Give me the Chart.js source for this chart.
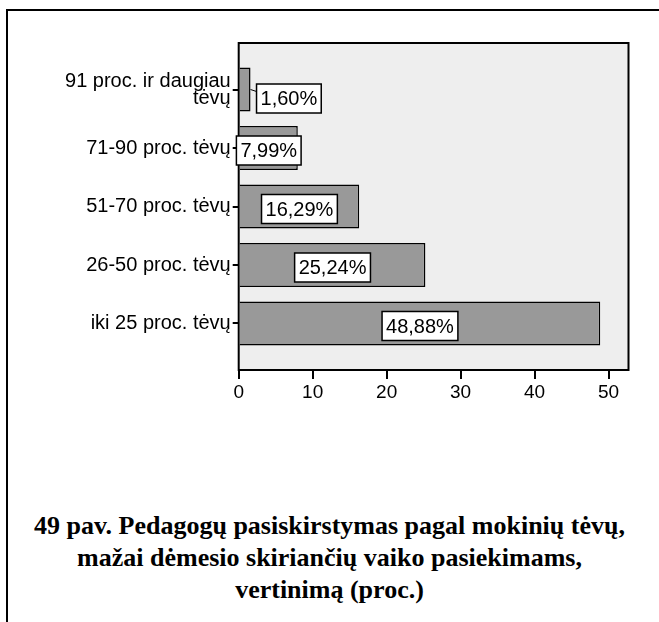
<!DOCTYPE html>
<html>
<head>
<meta charset="utf-8">
<script src="https://cdn.jsdelivr.net/npm/chart.js@4.4.1/dist/chart.umd.min.js"></script>
<style>
  body { margin: 0; background: #fff; }
  #frame {
    position: absolute; left: 6px; top: 9px; width: 700px; height: 700px;
    border-top: 2px solid #000; border-left: 2px solid #000;
  }
  #wrap { position: absolute; left: 0; top: 0; width: 659px; height: 420px; }
  #caption {
    position: absolute; left: 0; top: 510px; width: 659px; text-align: center;
    font: bold 26px 'Liberation Serif', 'Times New Roman', serif;
    line-height: 32px; color: #000;
  }
</style>
</head>
<body>
<div id="frame"></div>
<div id="wrap"><canvas id="chart"></canvas></div>
<div id="caption">49 pav. Pedagogų pasiskirstymas pagal mokinių tėvų,<br>mažai dėmesio skiriančių vaiko pasiekimams,<br>vertinimą (proc.)</div>
<script>
// categories top to bottom
const categories = [
    ['91 proc. ir daugiau', 'tėvų'],
    '71-90 proc. tėvų',
    '51-70 proc. tėvų',
    '26-50 proc. tėvų',
    'iki 25 proc. tėvų'
];
const percents = [1.60, 7.99, 16.29, 25.24, 48.88];
const xTicks = [0, 10, 20, 30, 40, 50];

const FONT = "'Liberation Sans', Arial, sans-serif";

const plotFrame = {
    id: 'plotFrame',
    beforeDatasetsDraw(chart) {
        const { ctx, chartArea: a } = chart;
        ctx.save();
        ctx.fillStyle = '#eeeeee';
        ctx.fillRect(a.left, a.top, a.right - a.left, a.bottom - a.top);
        ctx.strokeStyle = '#000';
        ctx.lineWidth = 2;
        ctx.strokeRect(a.left, a.top, a.right - a.left, a.bottom - a.top);
        ctx.restore();
    }
};

// white boxes with the percentage, centred on the bar or beside it when the bar is too short
const valueBoxes = {
    id: 'valueBoxes',
    afterDatasetsDraw(chart) {
        const { ctx } = chart;
        const meta = chart.getDatasetMeta(0);
        ctx.save();
        ctx.font = `20px ${FONT}`;
        ctx.textAlign = 'center';
        ctx.textBaseline = 'middle';
        meta.data.forEach((bar, i) => {
            const text = percents[i].toFixed(2).replace('.', ',') + '%';
            const w = ctx.measureText(text).width + 8;
            const h = 29;
            const len = bar.x - bar.base;
            let cx = (bar.x + bar.base) / 2;
            let cy = bar.y + 2.5;
            if (len < w / 2) {
                const left = bar.x + 6;
                cx = left + w / 2;
                cy = bar.y + 9;
                ctx.strokeStyle = '#000';
                ctx.lineWidth = 1;
                ctx.beginPath();
                ctx.moveTo(bar.x, bar.y);
                ctx.lineTo(left, bar.y + 2);
                ctx.stroke();
            }
            ctx.fillStyle = '#fff';
            ctx.fillRect(cx - w / 2, cy - h / 2, w, h);
            ctx.strokeStyle = '#000';
            ctx.lineWidth = 1.5;
            ctx.strokeRect(cx - w / 2, cy - h / 2, w, h);
            ctx.fillStyle = '#000';
            ctx.fillText(text, cx, cy + 1);
        });
        ctx.restore();
    }
};

new Chart(document.getElementById('chart'), {
    type: 'bar',
    data: {
        datasets: [{
            data: percents.map((v, i) => ({ x: v, y: i })),
            backgroundColor: '#999999',
            borderColor: '#000',
            borderWidth: 1.5,
            barPercentage: 0.755,
            categoryPercentage: 1
        }]
    },
    options: {
        indexAxis: 'y',
        responsive: true,
        maintainAspectRatio: false,
        animation: false,
        layout: { padding: { top: 43, right: 30.5, left: 0, bottom: 0 } },
        plugins: {
            legend: { display: false },
            tooltip: { enabled: false }
        },
        scales: {
            x: {
                type: 'linear',
                position: 'bottom',
                min: 0,
                max: 52.7,
                afterFit(s) { s.height = 50; },
                afterBuildTicks(s) { s.ticks = xTicks.map(v => ({ value: v })); },
                grid: { drawOnChartArea: false, tickLength: 9, color: '#000', lineWidth: 2 },
                border: { display: false },
                ticks: { color: '#000', font: { family: FONT, size: 19 }, padding: 2, maxRotation: 0 }
            },
            y: {
                type: 'linear',
                reverse: true,
                offset: false,
                min: -0.795,
                max: 4.795,
                afterFit(s) { s.width = 238.7; },
                afterBuildTicks(s) { s.ticks = categories.map((c, i) => ({ value: i })); },
                grid: { offset: false, drawOnChartArea: false, tickLength: 6, color: '#000', lineWidth: 2 },
                border: { display: false },
                ticks: {
                    color: '#000',
                    font: { family: FONT, size: 20, lineHeight: 0.85 },
                    padding: 2,
                    callback: v => categories[v]
                }
            }
        }
    },
    plugins: [plotFrame, valueBoxes]
});
</script>
</body>
</html>
